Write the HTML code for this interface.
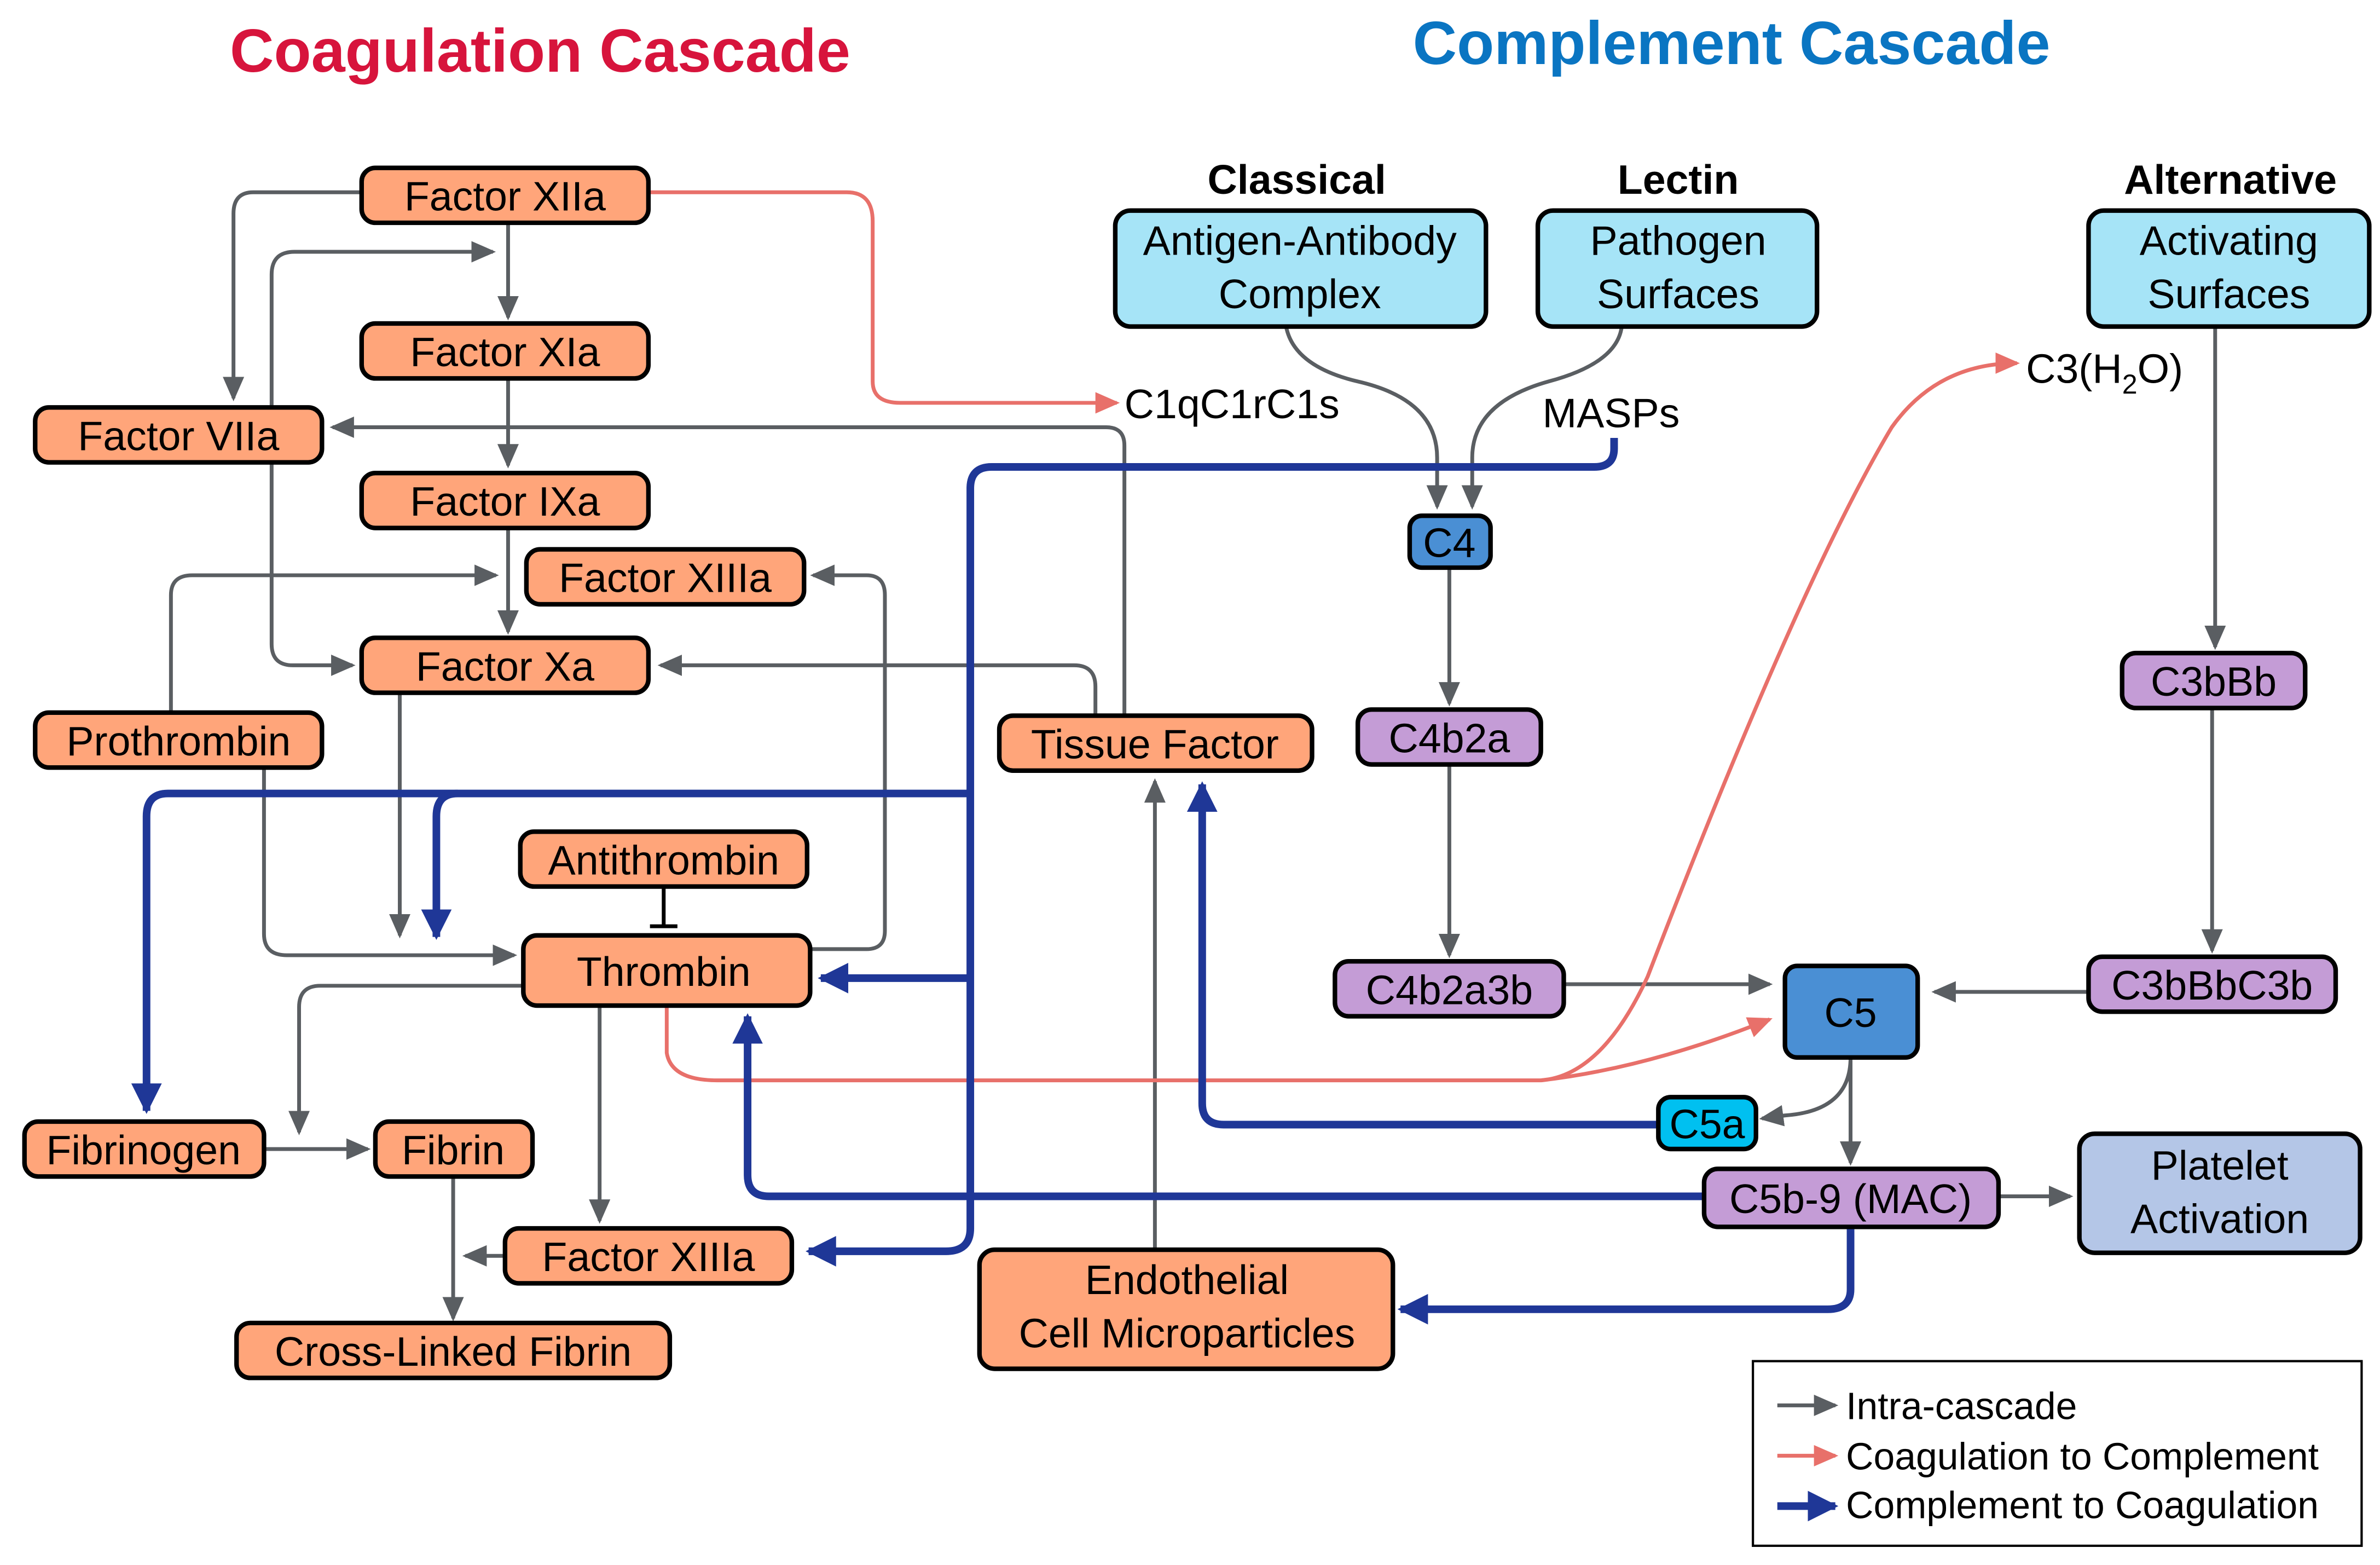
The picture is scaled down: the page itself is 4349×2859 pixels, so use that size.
<!DOCTYPE html>
<html><head><meta charset="utf-8"><style>html,body{margin:0;padding:0;background:#fff}svg{display:block}</style></head>
<body>
<svg xmlns="http://www.w3.org/2000/svg" width="4349" height="2859" viewBox="0 0 1560 1025.6" font-family="Liberation Sans, Arial, sans-serif">
<defs>
<marker id="g" markerUnits="userSpaceOnUse" markerWidth="20" markerHeight="20" refX="14" refY="8" orient="auto"><path d="M0,1 L16,8 L0,15 Z" fill="#5a5e62"/></marker>
<marker id="r" markerUnits="userSpaceOnUse" markerWidth="20" markerHeight="20" refX="14" refY="8" orient="auto"><path d="M0,1 L16,8 L0,15 Z" fill="#e8706a"/></marker>
<marker id="b" markerUnits="userSpaceOnUse" markerWidth="24" markerHeight="24" refX="18" refY="11" orient="auto"><path d="M0,1 L20,11 L0,21 Z" fill="#1f3797"/></marker>
</defs>
<text x="354" y="47" text-anchor="middle" font-size="40" font-weight="bold" fill="#d7143c">Coagulation Cascade</text>
<text x="1135" y="42" text-anchor="middle" font-size="40" font-weight="bold" fill="#0a75c2">Complement Cascade</text>
<g font-size="27" font-weight="bold" text-anchor="middle">
<text x="850" y="127">Classical</text><text x="1100" y="127">Lectin</text><text x="1462" y="127">Alternative</text></g>

<!-- gray edges -->
<g fill="none" stroke="#5a5e62" stroke-width="2.5" marker-end="url(#g)">
<path d="M333,146 L333,208"/>
<path d="M333,248 L333,305"/>
<path d="M333,346 L333,414"/>
<path d="M237,126 L166,126 Q153,126 153,140 L153,261"/>
<path d="M178,290 L178,180 Q178,165 193,165 L323,165"/>
<path d="M178,303 L178,422 Q178,436 192,436 L231,436"/>
<path d="M112,467 L112,390 Q112,377 126,377 L325,377"/>
<path d="M173,503 L173,612 Q173,626 188,626 L337,626"/>
<path d="M262,454 L262,613"/>
<path d="M531,622 L568,622 Q580,622 580,610 L580,390 Q580,377 568,377 L533,377"/>
<path d="M718,469 L718,450 Q718,436 704,436 L433,436"/>
<path d="M737,469 L737,292 Q737,280 725,280 L218,280"/>
<path d="M343,646 L210,646 Q196,646 196,660 L196,742"/>
<path d="M173,753 L241,753"/>
<path d="M393,659 L393,800"/>
<path d="M297,771 L297,864"/>
<path d="M331,823 L305,823"/>
<path d="M757,819 L757,512"/>
<path d="M843,214 Q848,240 890,250 Q942,262 942,300 L942,332"/>
<path d="M1063,214 Q1060,238 1015,250 Q965,264 965,300 L965,332"/>
<path d="M950,372 L950,461"/>
<path d="M950,501 L950,626"/>
<path d="M1025,645 L1160,645"/>
<path d="M1452,214 L1452,424"/>
<path d="M1450,464 L1450,623"/>
<path d="M1369,650 L1268,650"/>
<path d="M1213,693 L1213,762"/>
<path d="M1213,693 Q1213,728 1170,731 L1155,733"/>
<path d="M1310,784 L1357,784"/>
</g>
<path d="M435,581 L435,607 M426,607 L444,607" stroke="#000" stroke-width="2.5" fill="none"/>

<!-- red edges -->
<g fill="none" stroke="#e8706a" stroke-width="2.5" marker-end="url(#r)">
<path d="M425,126 L555,126 Q572,126 572,145 L572,250 Q572,264 590,264 L732,264"/>
<path d="M437,659 L437,690 Q440,708 470,708 L1010,708 Q1050,705 1080,640 Q1180,380 1240,280 Q1270,238 1322,238"/>
<path d="M1010,708 Q1080,700 1160,668"/>
</g>

<!-- blue edges -->
<g fill="none" stroke="#1f3797" stroke-width="5" marker-end="url(#b)">
<path d="M1058,287 L1058,294 Q1058,306 1045,306 L650,306 Q636,306 636,320 L636,805 Q636,820 620,820 L530,820"/>
<path d="M636,520 L110,520 Q96,520 96,535 L96,728"/>
<path d="M300,520 Q286,520 286,535 L286,614"/>
<path d="M636,641 L538,641"/>
<path d="M1087,737 L802,737 Q788,737 788,723 L788,514"/>
<path d="M1117,784 L504,784 Q490,784 490,770 L490,666"/>
<path d="M1213,804 L1213,845 Q1213,858 1198,858 L918,858"/>
</g>

<!-- nodes -->
<g stroke="#000" stroke-width="3">
<g fill="#ffa57a">
<rect x="237" y="110" width="188" height="36" rx="9"/>
<rect x="237" y="212" width="188" height="36" rx="9"/>
<rect x="23" y="267" width="188" height="36" rx="9"/>
<rect x="237" y="310" width="188" height="36" rx="9"/>
<rect x="345" y="360" width="182" height="36" rx="9"/>
<rect x="237" y="418" width="188" height="36" rx="9"/>
<rect x="23" y="467" width="188" height="36" rx="9"/>
<rect x="655" y="469" width="205" height="36" rx="9"/>
<rect x="341" y="545" width="188" height="36" rx="9"/>
<rect x="343" y="613" width="188" height="46" rx="9"/>
<rect x="16" y="735" width="157" height="36" rx="9"/>
<rect x="246" y="735" width="103" height="36" rx="9"/>
<rect x="331" y="805" width="188" height="36" rx="9"/>
<rect x="155" y="867" width="284" height="36" rx="9"/>
<rect x="642" y="819" width="271" height="78" rx="10"/>
</g>
<g fill="#a6e4f7">
<rect x="731" y="138" width="243" height="76" rx="10"/>
<rect x="1008" y="138" width="183" height="76" rx="10"/>
<rect x="1369" y="138" width="184" height="76" rx="10"/>
</g>
<g fill="#4a8fd4">
<rect x="924" y="338" width="53" height="34" rx="8"/>
<rect x="1170" y="633" width="87" height="60" rx="8"/>
</g>
<g fill="#c49cd6">
<rect x="890" y="465" width="120" height="36" rx="9"/>
<rect x="875" y="630" width="150" height="36" rx="9"/>
<rect x="1391" y="428" width="120" height="36" rx="9"/>
<rect x="1369" y="627" width="162" height="36" rx="9"/>
<rect x="1117" y="766" width="193" height="38" rx="9"/>
</g>
<rect x="1087" y="719" width="64" height="34" rx="8" fill="#00c0f0"/>
<rect x="1363" y="743" width="184" height="78" rx="10" fill="#b4c6e7"/>
</g>

<g font-size="27" text-anchor="middle" fill="#000">
<text x="331" y="138">Factor XIIa</text>
<text x="331" y="240">Factor XIa</text>
<text x="117" y="295">Factor VIIa</text>
<text x="331" y="338">Factor IXa</text>
<text x="436" y="388">Factor XIIIa</text>
<text x="331" y="446">Factor Xa</text>
<text x="117" y="495">Prothrombin</text>
<text x="757" y="497">Tissue Factor</text>
<text x="435" y="573">Antithrombin</text>
<text x="435" y="646">Thrombin</text>
<text x="94" y="763">Fibrinogen</text>
<text x="297" y="763">Fibrin</text>
<text x="425" y="833">Factor XIIIa</text>
<text x="297" y="895">Cross-Linked Fibrin</text>
<text x="778" y="848">Endothelial</text>
<text x="778" y="883">Cell Microparticles</text>
<text x="852" y="167">Antigen-Antibody</text>
<text x="852" y="202">Complex</text>
<text x="1100" y="167">Pathogen</text>
<text x="1100" y="202">Surfaces</text>
<text x="1461" y="167">Activating</text>
<text x="1461" y="202">Surfaces</text>
<text x="950" y="365">C4</text>
<text x="950" y="493">C4b2a</text>
<text x="950" y="658">C4b2a3b</text>
<text x="1451" y="456">C3bBb</text>
<text x="1450" y="655">C3bBbC3b</text>
<text x="1213" y="673">C5</text>
<text x="1119" y="746">C5a</text>
<text x="1213" y="795">C5b-9 (MAC)</text>
<text x="1455" y="773">Platelet</text>
<text x="1455" y="808">Activation</text>
<text x="1056" y="280">MASPs</text>
</g>
<text x="737" y="274" font-size="27">C1qC1rC1s</text>
<text x="1328" y="251" font-size="27">C3(H<tspan font-size="18" dy="7">2</tspan><tspan dy="-7">O)</tspan></text>

<!-- legend -->
<rect x="1149" y="892" width="399" height="121" fill="#fff" stroke="#000" stroke-width="1.5"/>
<line x1="1165" y1="921" x2="1203" y2="921" stroke="#5a5e62" stroke-width="2.5" marker-end="url(#g)"/>
<line x1="1165" y1="954" x2="1203" y2="954" stroke="#e8706a" stroke-width="2.5" marker-end="url(#r)"/>
<line x1="1165" y1="987" x2="1203" y2="987" stroke="#1f3797" stroke-width="5" marker-end="url(#b)"/>
<g font-size="25"><text x="1210" y="930">Intra-cascade</text><text x="1210" y="963">Coagulation to Complement</text><text x="1210" y="995">Complement to Coagulation</text></g>
</svg>
</body></html>
